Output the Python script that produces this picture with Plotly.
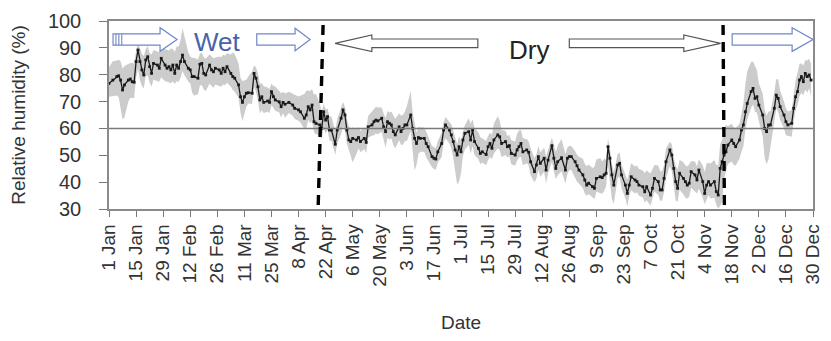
import plotly.graph_objects as go

# ---------------- data ----------------
tick_labels = ["1 Jan", "15 Jan", "29 Jan", "12 Feb", "26 Feb", "11 Mar", "25 Mar",
               "8 Apr", "22 Apr", "6 May", "20 May", "3 Jun", "17 Jun", "1 Jul",
               "15 Jul", "29 Jul", "12 Aug", "26 Aug", "9 Sep", "23 Sep", "7 Oct",
               "21 Oct", "4 Nov", "18 Nov", "2 Dec", "16 Dec", "30 Dec"]
tick_step_days = 14

# day of year (0 = 1 Jan, leap year)
days = [0, 2, 4, 5, 6, 7, 8, 10, 11, 12, 13, 14, 15, 16, 17, 18, 19, 20, 21, 22,
        23, 25, 26, 27, 29, 30, 31, 32, 33, 34, 35, 36, 37, 38, 39, 41, 42, 43, 44, 46,
        47, 48, 49, 50, 52, 53, 54, 55, 57, 58, 59, 60, 61, 63, 64, 65, 67, 68, 69, 70,
        71, 72, 74, 75, 76, 77, 78, 79, 80, 82, 83, 84, 85, 86, 88, 89, 90, 91,
        93, 95, 96, 98, 99, 101, 102, 103, 104, 105, 106, 107, 109, 110, 111, 112, 113, 114, 115, 117,
        118, 120, 121, 122, 123, 124, 125, 126, 128, 129, 130, 132, 133, 134, 136, 137, 138, 139, 141, 142,
        143, 144, 145, 146, 147, 148, 150, 151, 152, 153, 154, 156, 157, 158, 159, 160, 161, 163, 164, 165,
        167, 168, 169, 170, 172, 173, 174, 176, 177, 178, 179, 180, 181, 182, 183, 184,
        186, 187, 188, 189, 191, 192, 193, 195, 196, 197, 198, 199, 201, 202, 203, 205, 206, 207, 208, 210,
        211, 212, 213, 214, 216, 217, 218, 220, 221, 222, 223, 225, 226, 227, 229, 230, 231, 232, 234, 236,
        237, 238, 239, 241, 242, 243, 245, 246, 247, 248, 250, 251, 252, 254, 255, 256, 257, 258, 259, 260,
        261, 263, 264, 265, 267, 268, 269, 270, 272, 273, 274,
        276, 277, 278, 280, 281, 282, 284, 285, 286, 287, 288, 290, 291, 292, 293, 294, 295, 297, 298, 299,
        300, 301, 303, 304, 305, 307, 308, 309, 310, 311, 313, 314, 315, 316, 317, 318, 319, 320, 322, 323,
        324, 326, 327, 328, 329, 330, 332, 333, 334, 335, 336, 338, 339, 340, 341, 342, 344, 345, 346, 347,
        349, 350, 351, 353, 354, 355, 356, 357, 358, 359, 360, 361, 362, 363]

rh_mean = [76.8, 78.0, 79.3, 79.6, 78.0, 74.3, 76.2, 78.0, 78.4, 77.4, 77.2, 84.9, 89.2, 84.9, 81.8, 79.9, 85.5, 86.7, 83.0, 80.5,
           84.2, 83.6, 82.4, 86.1, 83.6, 82.4, 83.0, 81.8, 83.6, 80.5, 83.6, 82.4, 84.9, 87.3, 84.9, 82.4, 81.8, 79.3, 79.3, 78.7,
           83.9, 84.2, 80.5, 79.9, 83.6, 81.8, 81.1, 82.4, 81.8, 80.5, 82.4, 81.1, 83.0, 80.5, 79.3, 78.7, 76.2, 71.8, 69.7, 71.8,
           73.1, 73.3, 73.1, 80.5, 78.7, 75.5, 70.6, 71.8, 69.7, 70.2, 69.7, 73.7, 71.8, 70.6, 69.9, 68.1, 69.7, 69.0,
           69.7, 68.7, 67.5, 66.9, 66.2, 63.8, 65.0, 68.1, 66.9, 68.7, 62.5, 61.9, 61.3, 60.0, 66.2, 63.1, 64.4, 59.4, 59.4, 54.1,
           59.4, 63.8, 66.9, 65.0, 59.4, 55.7, 55.1, 56.3, 55.7, 56.6, 55.1, 56.3, 54.8, 60.6, 61.3, 62.5, 63.1, 62.8, 63.8, 60.6,
           58.8, 62.5, 61.9, 61.3, 58.8, 57.6, 60.6, 58.8, 60.0, 61.3, 61.3, 65.0, 60.0, 56.3, 54.4, 56.6, 56.3, 56.3, 54.4, 53.2,
           49.5, 48.9, 48.6, 51.3, 54.4, 59.4, 61.3, 59.4, 57.6, 55.1, 52.0, 50.1, 53.2, 51.3, 55.7, 58.2,
           58.8, 55.7, 59.4, 55.1, 52.6, 50.7, 51.3, 50.3, 53.2, 54.4, 52.6, 55.7, 57.6, 56.9, 54.4, 55.1, 53.2, 53.6, 50.7, 50.1,
           52.0, 53.2, 54.4, 51.3, 52.0, 51.1, 47.6, 43.9, 46.4, 49.5, 47.0, 48.9, 44.5, 48.2, 53.6, 48.9, 45.1, 47.6, 49.1, 44.5,
           48.9, 49.5, 49.5, 47.6, 46.1, 44.5, 42.7, 40.8, 38.9, 39.6, 38.3, 37.7, 41.4, 42.0, 41.7, 42.7, 43.3, 53.2, 48.9, 42.7,
           38.9, 46.4, 47.0, 42.7, 38.9, 35.8, 38.9, 42.0, 40.8, 40.2, 38.9,
           38.3, 36.4, 38.3, 35.2, 37.7, 41.4, 40.2, 37.1, 37.1, 41.4, 47.6, 52.0, 50.1, 45.1, 40.2, 37.7, 43.3, 41.4, 40.2, 38.9,
           39.6, 43.9, 42.7, 40.8, 44.5, 40.2, 35.8, 38.9, 40.2, 38.9, 40.2, 36.5, 35.2, 45.1, 47.6, 50.1, 51.3, 53.8, 55.7, 54.4,
           53.2, 55.7, 59.4, 61.3, 66.2, 69.3, 73.7, 74.9, 71.2, 71.8, 68.7, 65.0, 60.0, 58.8, 61.3, 61.3, 67.5, 72.4, 71.2, 68.1,
           65.0, 62.5, 61.3, 61.9, 67.5, 71.8, 73.7, 78.0, 79.3, 77.4, 80.5, 79.3, 79.9, 78.0]

# spread of the grey band above / below the mean (percentage points)
rh_up = [6, 7, 6, 6, 7, 8, 7, 6, 6, 7, 7, 4, 3, 5, 6, 7, 4, 4, 5, 7,
         5, 5, 6, 4, 6, 7, 6, 8, 6, 8, 7, 8, 8, 10, 9, 6, 5, 7, 7, 7,
         4, 4, 6, 6, 4, 5, 5, 4, 5, 6, 5, 6, 5, 7, 9, 9, 8, 7, 8, 6,
         5, 6, 8, 3, 4, 5, 6, 5, 6, 5, 5, 3, 4, 5, 4, 5, 4, 4,
         4, 4, 5, 5, 6, 9, 9, 6, 7, 6, 10, 11, 8, 6, 3, 4, 3, 5, 5, 5,
         4, 4, 3, 3, 4, 5, 5, 4, 4, 4, 4, 4, 5, 4, 5, 5, 5, 5, 4, 5,
         5, 4, 4, 5, 6, 6, 5, 6, 5, 5, 7, 9, 6, 5, 4, 4, 4, 4, 4, 4,
         4, 4, 4, 4, 4, 3, 3, 3, 4, 4, 4, 4, 4, 4, 3, 3,
         5, 6, 4, 5, 6, 6, 5, 5, 4, 4, 5, 6, 7, 6, 5, 4, 4, 4, 5, 5,
         6, 6, 5, 5, 4, 4, 5, 5, 4, 4, 4, 4, 5, 4, 3, 5, 6, 6, 7, 6,
         4, 4, 4, 4, 4, 5, 6, 6, 7, 7, 7, 8, 7, 7, 6, 6, 5, 3, 4, 4,
         5, 4, 4, 4, 4, 5, 5, 5, 5, 6, 6,
         6, 7, 6, 8, 7, 5, 6, 7, 7, 5, 5, 3, 4, 4, 6, 7, 5, 6, 6, 7,
         7, 4, 5, 5, 4, 6, 8, 8, 7, 8, 8, 10, 11, 9, 8, 10, 10, 7, 6, 6,
         7, 6, 6, 8, 10, 12, 11, 10, 12, 10, 8, 8, 7, 6, 5, 5, 6, 6, 7, 6,
         5, 5, 5, 5, 5, 6, 7, 6, 5, 6, 5, 6, 6, 6]

rh_dn = [5, 6, 7, 8, 10, 11, 12, 8, 7, 6, 6, 6, 7, 7, 6, 5, 6, 7, 6, 5,
         6, 6, 5, 7, 6, 5, 6, 5, 6, 4, 6, 5, 6, 6, 5, 5, 5, 6, 7, 6,
         8, 8, 6, 6, 7, 6, 6, 6, 6, 5, 6, 5, 6, 5, 5, 5, 5, 6, 7, 6,
         5, 4, 4, 5, 5, 5, 5, 5, 4, 4, 4, 5, 4, 4, 4, 4, 4, 5,
         4, 4, 4, 4, 4, 4, 5, 5, 5, 6, 4, 4, 4, 4, 6, 5, 5, 4, 4, 4,
         5, 6, 6, 6, 5, 4, 6, 9, 5, 4, 4, 4, 4, 4, 4, 5, 5, 5, 5, 5,
         6, 6, 6, 5, 5, 5, 5, 5, 6, 6, 6, 6, 8, 12, 8, 6, 5, 5, 5, 5,
         4, 4, 4, 4, 5, 5, 5, 5, 5, 6, 8, 11, 13, 8, 6, 6,
         5, 5, 6, 5, 4, 4, 4, 4, 5, 5, 4, 5, 5, 5, 5, 5, 4, 4, 4, 4,
         4, 4, 5, 5, 5, 5, 5, 4, 5, 5, 5, 5, 5, 5, 6, 5, 4, 5, 5, 5,
         6, 5, 5, 6, 6, 5, 5, 5, 4, 4, 4, 4, 5, 6, 6, 6, 5, 7, 8, 9,
         7, 5, 5, 5, 5, 5, 4, 5, 5, 4, 4,
         4, 4, 5, 4, 4, 5, 5, 4, 4, 5, 6, 6, 6, 7, 7, 5, 6, 6, 6, 5,
         5, 6, 6, 5, 7, 6, 4, 5, 5, 5, 6, 5, 5, 14, 15, 9, 7, 7, 8, 8,
         7, 7, 8, 8, 7, 6, 6, 6, 5, 6, 6, 8, 11, 12, 13, 8, 5, 5, 5, 5,
         5, 5, 4, 5, 5, 5, 5, 6, 6, 5, 6, 6, 5, 6]

season_change_days = [(110.7, 108.1), (317.5, 318.2)]   # dashed boundaries (top, bottom)

assert len(days) == len(rh_mean) == len(rh_up) == len(rh_dn)

band_hi = [m + u for m, u in zip(rh_mean, rh_up)]
band_lo = [m - d for m, d in zip(rh_mean, rh_dn)]
tick_vals = [i * tick_step_days for i in range(len(tick_labels))]

FONT = "Liberation Sans, Arial, Helvetica, sans-serif"
BLUE_TXT = "#4763ab"
BLUE_LINE = "#6f88c4"
GREY_LINE = "#555555"

fig = go.Figure()
fig.add_trace(go.Scatter(x=days, y=band_hi, mode="lines", line=dict(width=0),
                         hoverinfo="skip", showlegend=False))
fig.add_trace(go.Scatter(x=days, y=band_lo, mode="lines", line=dict(width=0),
                         fill="tonexty", fillcolor="rgb(204,204,204)",
                         hoverinfo="skip", showlegend=False))
fig.add_trace(go.Scatter(x=days, y=rh_mean, mode="lines+markers",
                         line=dict(color="#1a1a1a", width=1.3),
                         marker=dict(symbol="square", size=2.8, color="#1a1a1a"),
                         showlegend=False))

shapes = []
# reference line at 60 %
shapes.append(dict(type="line", xref="paper", x0=0, x1=1, yref="y", y0=60, y1=60,
                   line=dict(color="#7a7a7a", width=1.5), layer="above"))
# dashed season boundaries
for xt, xb in season_change_days:
    shapes.append(dict(type="line", xref="x", yref="y", x0=xt, x1=xb, y0=98.5, y1=29.3,
                       line=dict(color="black", width=3.4, dash="10px,7px"), layer="above"))


def arrow(tail, base, tip, yc, sh, hh, color, width=1.2):
    p = (f"M {tail},{yc - sh} L {base},{yc - sh} L {base},{yc - hh} L {tip},{yc} "
         f"L {base},{yc + hh} L {base},{yc + sh} L {tail},{yc + sh} Z")
    return dict(type="path", xref="x", yref="y", path=p, fillcolor="white",
                line=dict(color=color, width=width), layer="above")


# wet arrows (blue)
shapes.append(arrow(2.1, 26.4, 35.2, 93.1, 2.1, 4.4, BLUE_LINE))
for bx in (3.6, 5.1, 6.6):
    shapes.append(dict(type="line", xref="x", yref="y", x0=bx, x1=bx, y0=91.0, y1=95.2,
                       line=dict(color=BLUE_LINE, width=1.1), layer="above"))
shapes.append(arrow(76.4, 96.2, 104.0, 93.1, 2.1, 4.2, BLUE_LINE))
shapes.append(arrow(322.2, 353.2, 364.0, 93.1, 2.1, 4.4, BLUE_LINE))
# dry arrows (grey)
shapes.append(arrow(190.7, 135.9, 116.9, 91.7, 1.6, 3.1, GREY_LINE))
shapes.append(arrow(238.0, 297.2, 316.2, 91.7, 1.6, 3.1, GREY_LINE))

annotations = [
    dict(x=55.9, y=92.0, xref="x", yref="y", text="Wet", showarrow=False,
         font=dict(family=FONT, size=26, color=BLUE_TXT)),
    dict(x=217.3, y=89.3, xref="x", yref="y", text="Dry", showarrow=False,
         font=dict(family=FONT, size=26, color="#222222")),
]

# the page adds an 8 px body margin, so the figure is 8 px smaller than the window
fig.update_layout(
    width=823, height=333,
    margin=dict(l=101, r=18, t=13, b=132, autoexpand=False),
    paper_bgcolor="white", plot_bgcolor="white",
    font=dict(family=FONT, size=19, color="#333333"),
    shapes=shapes, annotations=annotations,
    showlegend=False,
)
fig.update_xaxes(range=[0, 364], tickmode="array", tickvals=tick_vals, ticktext=tick_labels,
                 tickangle=-90, ticks="outside", ticklen=6, tickcolor="#777777",
                 showline=True, linecolor="#8a8a8a", linewidth=1.5, mirror=True,
                 showgrid=False, zeroline=False, automargin=False,
                 tickfont=dict(family=FONT, size=19, color="#333333"),
                 title=dict(text="Date", font=dict(family=FONT, size=19, color="#333333"),
                            standoff=30))
fig.update_yaxes(range=[30, 100], tickmode="array", tickvals=[30, 40, 50, 60, 70, 80, 90, 100],
                 ticks="outside", ticklen=8, tickcolor="#777777",
                 showline=True, linecolor="#8a8a8a", linewidth=1.5, mirror=True,
                 showgrid=False, zeroline=False, ticklabelstandoff=14, automargin=False,
                 tickfont=dict(family=FONT, size=20, color="#333333"),
                 title=dict(text="Relative humidity (%)",
                            font=dict(family=FONT, size=19, color="#333333"), standoff=17))

fig.write_html("out.html")
